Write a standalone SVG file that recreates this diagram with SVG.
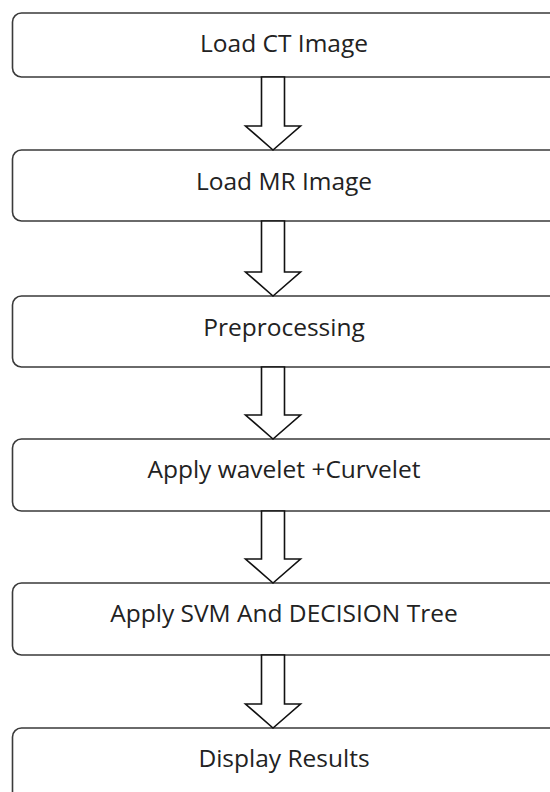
<svg xmlns="http://www.w3.org/2000/svg" width="550" height="792" viewBox="0 0 550 792">
<style>
.box{fill:#fff;stroke:#3a3a3a;stroke-width:1.6}
.lbl{font-family:"Open Sans","Liberation Sans",sans-serif;font-size:24.5px;fill:#222;text-anchor:middle}
.arr{fill:#fff;stroke:#111;stroke-width:1.6;stroke-linejoin:miter}
</style>
<rect width="550" height="792" fill="#fff"/>
<g id="n1"><rect class="box" x="12.5" y="13" width="560" height="64" rx="9"/><text class="lbl" x="284" y="52">Load CT Image</text></g>
<g id="n2"><rect class="box" x="12.5" y="150" width="560" height="71" rx="9"/><text class="lbl" x="284" y="190">Load MR Image</text></g>
<g id="n3"><rect class="box" x="12.5" y="296" width="560" height="71" rx="9"/><text class="lbl" x="284" y="336">Preprocessing</text></g>
<g id="n4"><rect class="box" x="12.5" y="439" width="560" height="72" rx="9"/><text class="lbl" x="284" y="478">Apply wavelet +Curvelet</text></g>
<g id="n5"><rect class="box" x="12.5" y="583" width="560" height="72" rx="9"/><text class="lbl" x="284" y="622">Apply SVM And DECISION Tree</text></g>
<g id="n6"><rect class="box" x="12.5" y="728" width="560" height="90" rx="9"/><text class="lbl" x="284" y="767">Display Results</text></g>
<g id="connectors">
<polygon class="arr" points="261.5,77 284.5,77 284.5,126 300.5,126 273,150 245.5,126 261.5,126"/>
<polygon class="arr" points="261.5,221 284.5,221 284.5,272 300.5,272 273,296 245.5,272 261.5,272"/>
<polygon class="arr" points="261.5,367 284.5,367 284.5,415 300.5,415 273,439 245.5,415 261.5,415"/>
<polygon class="arr" points="261.5,511 284.5,511 284.5,559 300.5,559 273,583 245.5,559 261.5,559"/>
<polygon class="arr" points="261.5,655 284.5,655 284.5,704 300.5,704 273,728 245.5,704 261.5,704"/>
</g>
</svg>
